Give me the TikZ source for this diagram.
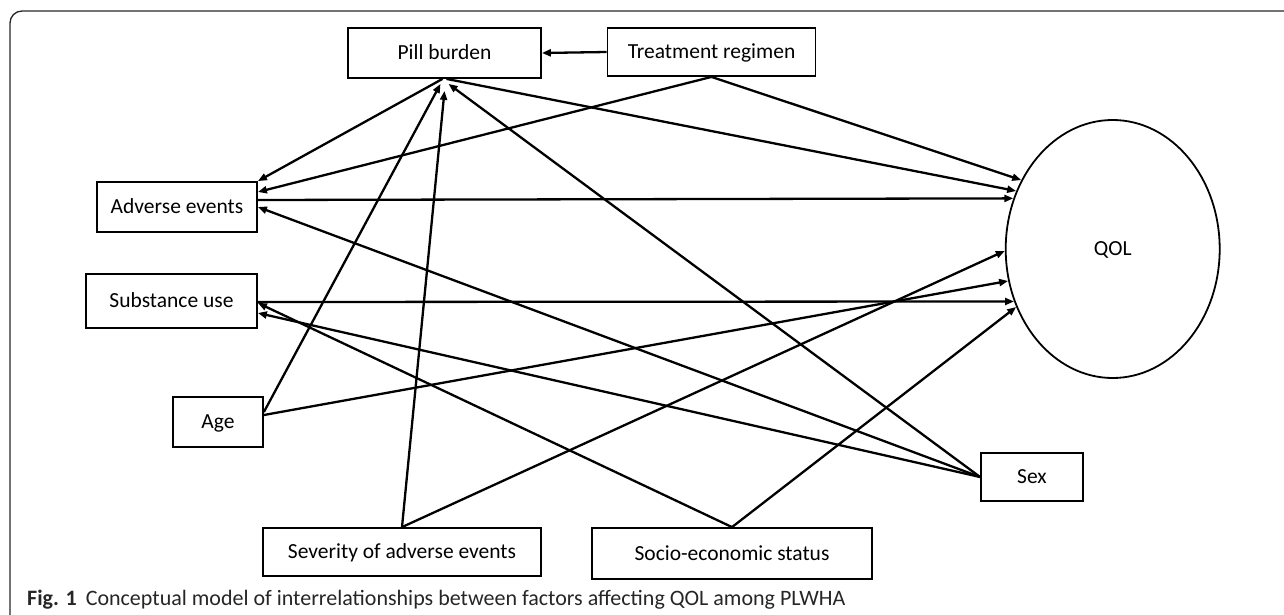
\documentclass[tikz,border=0pt]{standalone}
\usepackage{fontspec}
\setmainfont{Carlito}
\usetikzlibrary{shapes.geometric,arrows.meta}
\begin{document}
\begin{tikzpicture}[x=1pt,y=-1pt,
  box/.style={draw=black,line width=1.8pt,rectangle,inner sep=0pt,text height=13.6pt,text depth=0pt,font=\fontsize{21.5}{25}\selectfont},
  link/.style={line width=2.3pt,-{Triangle[length=9pt,width=7pt]}},
  frame/.style={draw=black!85,line width=1.3pt,rounded corners=12pt}]
\useasboundingbox (0,0) rectangle (1284,615);
\draw[frame] (10,615) -- (10,11) -- (1284,11);

\node[box,minimum width=193pt,minimum height=50pt] (pill) at (444.5,53) {Pill burden};
\node[box,minimum width=208pt,minimum height=48pt] (treat) at (711.5,52) {Treatment regimen};
\node[box,minimum width=160pt,minimum height=50pt] (adverse) at (177,207) {Adverse events};
\node[box,minimum width=171pt,minimum height=54pt] (subst) at (171.5,301) {Substance use};
\node[box,minimum width=90pt,minimum height=50pt] (age) at (218,422) {Age};
\node[box,minimum width=278pt,minimum height=48pt] (sev) at (402,552) {Severity of adverse events};
\node[box,minimum width=280pt,minimum height=51pt] (socio) at (732,553.5) {Socio-economic status};
\node[box,minimum width=102pt,minimum height=48pt] (sex) at (1032,477) {Sex};
\node[box,ellipse,minimum width=214pt,minimum height=258pt] (qol) at (1112.7,249) {QOL};

% treatment regimen
\draw[link] (treat.west) -- (pill.east);
\draw[link] (treat.south) -- ([yshift=15pt]adverse.east);
\draw[link] (treat.south) -- (qol.143.8);
% pill burden
\draw[link] ([xshift=-2pt]pill.south) -- (adverse.north east);
\draw[link] ([xshift=2pt]pill.south) -- (qol.149.3);
% adverse events
\draw[link] ([yshift=7pt]adverse.east) -- (qol.153.4);
% substance use
\draw[link] ([yshift=-1pt]subst.east) -- (qol.208.5);
% age
\draw[link] ([yshift=10pt]age.east) -- ([xshift=-4pt,yshift=-5pt]pill.south);
\draw[link] ([yshift=7pt]age.east) -- (qol.197.7);
% severity
\draw[link] (sev.north) -- ([yshift=-12pt]pill.south);
\draw[link] (sev.north) -- (qol.181.6);
% socio-economic status
\draw[link] (socio.north) -- ([yshift=-2pt]subst.east);
\draw[link] (socio.north) -- (qol.211.8);
% sex
\draw[link] (sex.west) -- ([xshift=4pt,yshift=-5pt]pill.south);
\draw[link] (sex.west) -- (adverse.east);
\draw[link] (sex.west) -- ([yshift=-12pt]subst.east);

\node[anchor=base west,inner sep=0pt,text=black!85,font=\fontsize{22}{26}\selectfont] (cap) at (27,605)
  {\textbf{Fig. 1}\hspace{9pt}Conceptual model of interrelationships between factors affecting QOL among PLWHA};
\end{tikzpicture}
\end{document}
